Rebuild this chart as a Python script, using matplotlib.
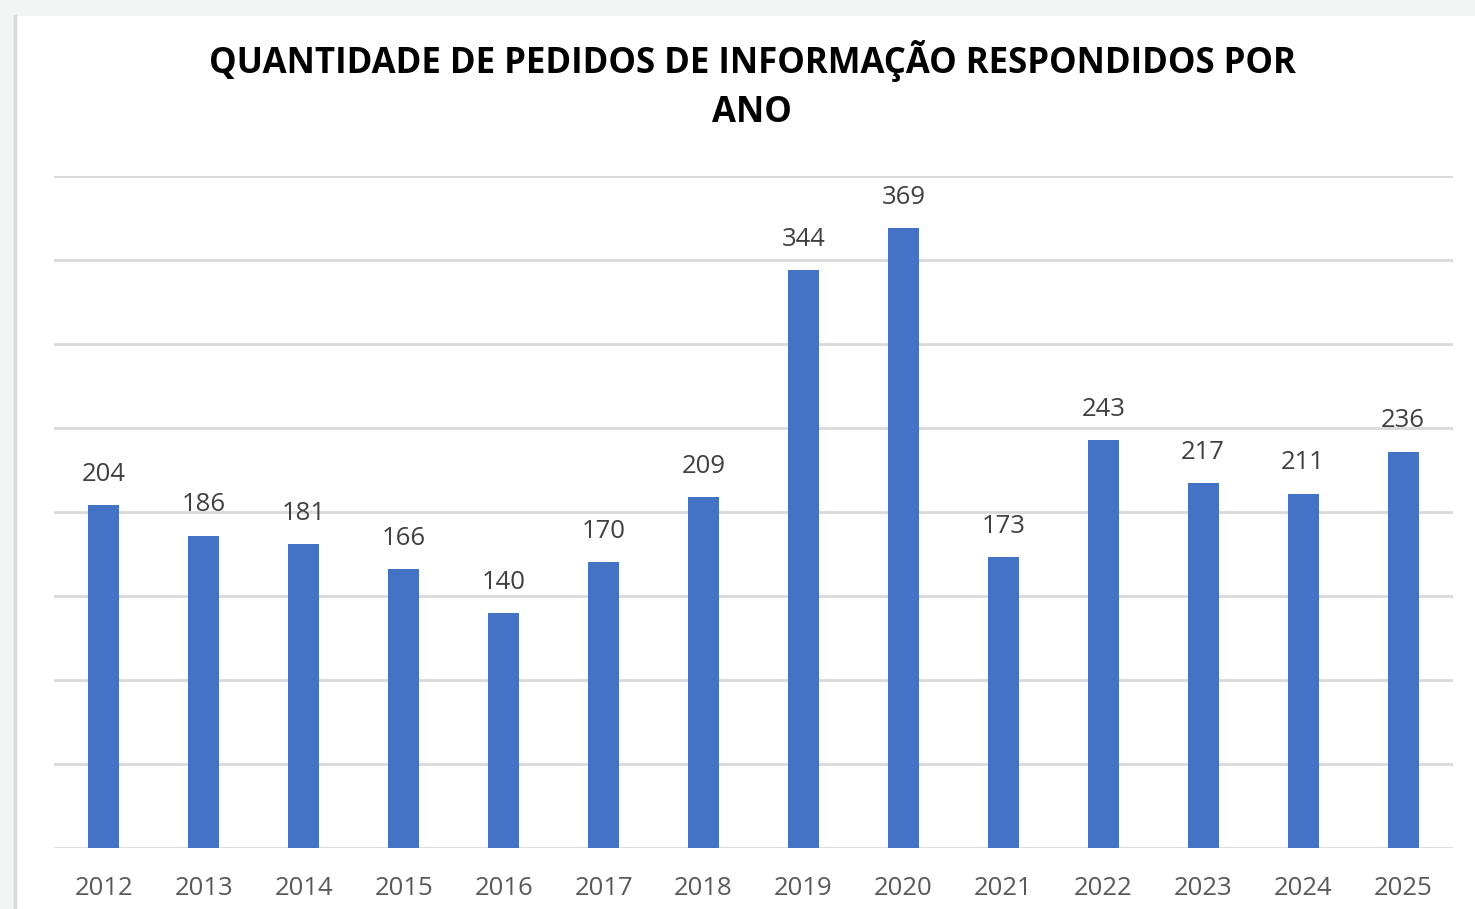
import matplotlib.pyplot as plt
import numpy as np

# dados do gráfico
anos = ["2012", "2013", "2014", "2015", "2016", "2017", "2018",
        "2019", "2020", "2021", "2022", "2023", "2024", "2025"]
pedidos = [204, 186, 181, 166, 140, 170, 209, 344, 369, 173, 243, 217, 211, 236]

titulo = "QUANTIDADE DE PEDIDOS DE INFORMAÇÃO RESPONDIDOS POR\nANO"

plt.rcParams['font.family'] = ['Open Sans', 'DejaVu Sans']

fig = plt.figure(figsize=(14.75, 9.09), dpi=100)
fig.patch.set_facecolor("#F2F5F3")

# area branca do grafico
fig.patches.append(plt.Rectangle((16 / 1475, 0), 1 - 16 / 1475, 1 - 16 / 909,
                                 transform=fig.transFigure, facecolor="white",
                                 edgecolor="none", zorder=-5))
fig.lines.append(plt.Line2D([15 / 1475, 15 / 1475], [0, 1 - 16 / 909],
                            transform=fig.transFigure, color="#D9D9D9", lw=2.5,
                            zorder=-4))

ax = fig.add_axes([54 / 1475, 61 / 909, (1453 - 54) / 1475, (848 - 176) / 909])
ax.set_facecolor("none")

x = np.arange(len(anos))
bars = ax.bar(x, pedidos, width=0.31, color="#4472C4", zorder=3)

ax.set_xlim(-0.5, len(anos) - 0.5)
ax.set_ylim(0, 400)
ax.set_yticks(np.arange(0, 401, 50))
ax.yaxis.grid(True, color="#D9D9D9", lw=2)
ax.tick_params(axis="y", left=False, labelleft=False)
ax.tick_params(axis="x", bottom=False, labelsize=18.5, labelcolor="#595959", pad=17)
ax.set_xticks(x)
ax.set_xticklabels(anos)
for s in ax.spines.values():
    s.set_visible(False)

for xi, v in zip(x, pedidos):
    ax.annotate(str(v), (xi, v), xytext=(0, 13), textcoords="offset points",
                ha="center", va="bottom", fontsize=18.5, color="#404040")

fig.text(752 / 1475, 1 - 40 / 909, titulo, ha="center", va="top",
         fontsize=25, fontweight="bold", color="black", linespacing=1.5)

fig.savefig("out.png", dpi=100, facecolor=fig.get_facecolor())
